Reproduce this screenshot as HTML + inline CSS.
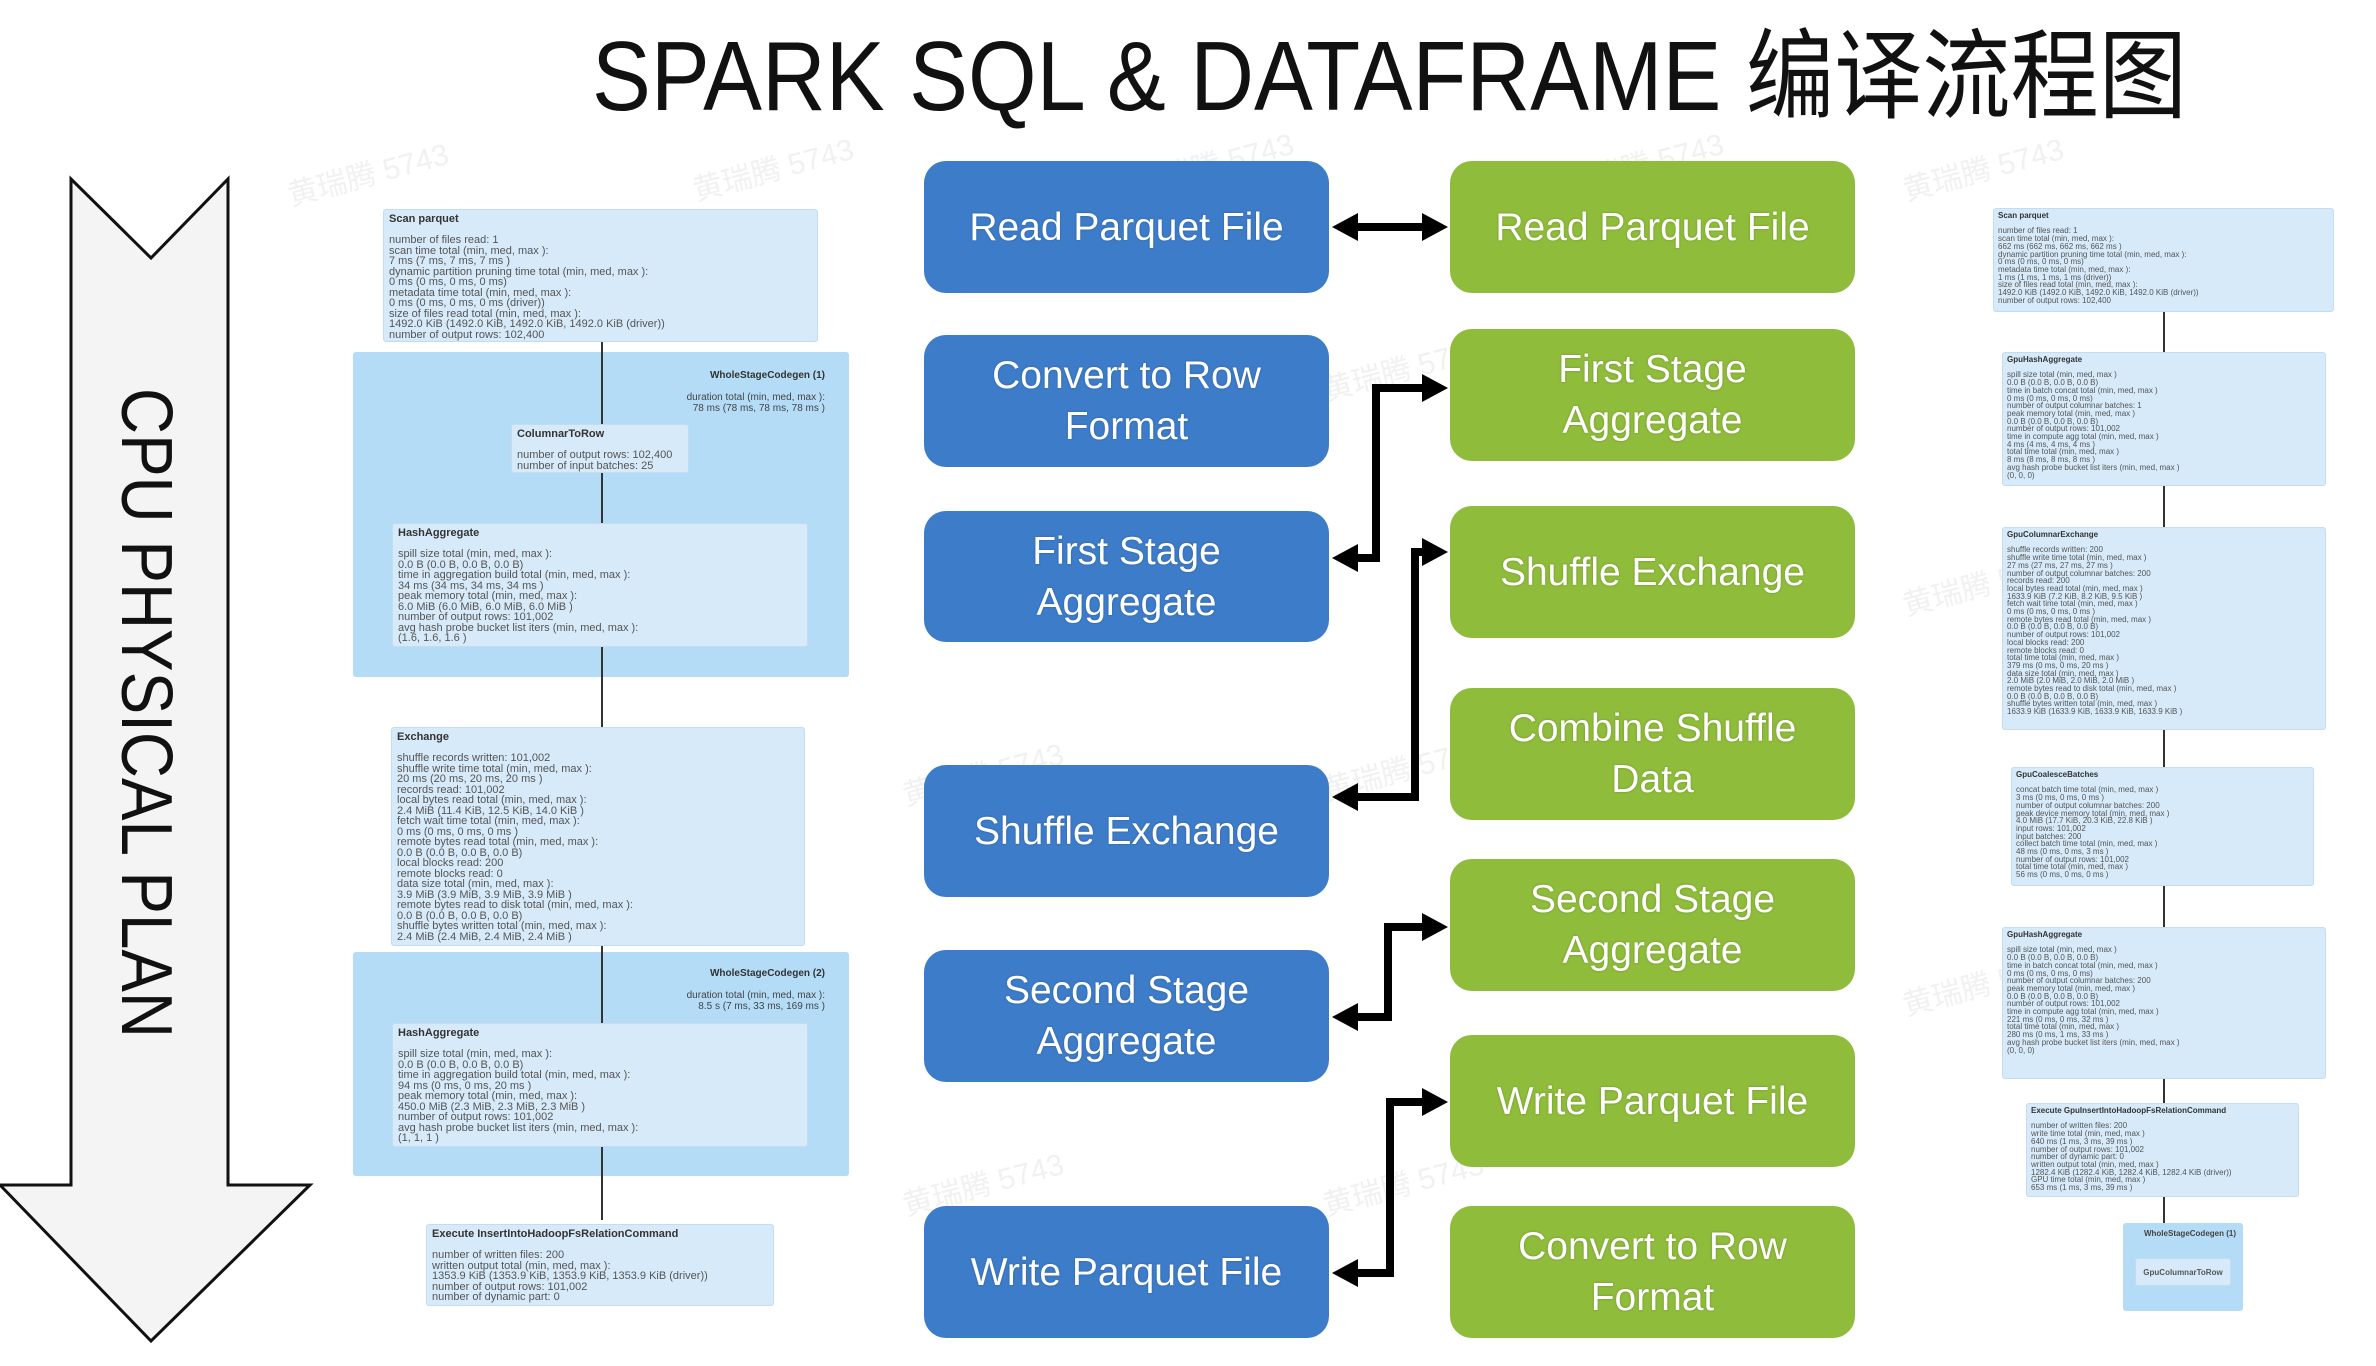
<!DOCTYPE html>
<html><head><meta charset="utf-8"><style>
body{margin:0;width:2376px;height:1366px;background:#fff;position:relative;overflow:hidden;font-family:"Liberation Sans","Noto Sans CJK SC",sans-serif}
.a{position:absolute}
.b{position:absolute;border-radius:22px;color:#fff;display:flex;align-items:center;justify-content:center;text-align:center;font-size:39px;line-height:51px;text-shadow:0 0 2px rgba(0,0,0,.25)}
.bl{background:#3d7cc9;left:924px;width:405px}
.gr{background:#8fbc3b;left:1450px;width:405px}
.p{position:absolute;background:#d7eaf9;border:1px solid #c4dcef;border-radius:3px;color:#555;font-size:11px;line-height:10.5px;padding:4px 5px;box-sizing:border-box;white-space:pre;overflow:hidden}
.p b{color:#333}
.r{font-size:8px;line-height:7.7px;padding:3px 4px}
.cg{position:absolute;background:#b5dcf6;border-radius:3px}
.wm{position:absolute;color:#f1f1f1;font-size:30px;transform:rotate(-15deg);white-space:nowrap}
</style></head><body>

<div class="wm" style="left:285px;top:150px">黄瑞腾 5743</div>
<div class="wm" style="left:690px;top:145px">黄瑞腾 5743</div>
<div class="wm" style="left:1130px;top:140px">黄瑞腾 5743</div>
<div class="wm" style="left:1560px;top:140px">黄瑞腾 5743</div>
<div class="wm" style="left:1900px;top:145px">黄瑞腾 5743</div>
<div class="wm" style="left:1320px;top:345px">黄瑞腾 5743</div>
<div class="wm" style="left:900px;top:750px">黄瑞腾 5743</div>
<div class="wm" style="left:1320px;top:745px">黄瑞腾 5743</div>
<div class="wm" style="left:900px;top:1160px">黄瑞腾 5743</div>
<div class="wm" style="left:1320px;top:1160px">黄瑞腾 5743</div>
<div class="wm" style="left:1900px;top:560px">黄瑞腾 5743</div>
<div class="wm" style="left:1900px;top:960px">黄瑞腾 5743</div>

<svg class="a" style="left:0;top:0" width="2376" height="1366">
<text x="592" y="110" font-family="Liberation Sans, Noto Sans CJK SC, sans-serif" font-size="98" fill="#111" textLength="1595" lengthAdjust="spacingAndGlyphs">SPARK SQL &amp; DATAFRAME 编译流程图</text>
<polygon points="71,179 151,258 228,179 228,1185 310,1185 151,1341 0,1185 71,1185" fill="#f4f4f4" stroke="#111" stroke-width="3"/>
<text transform="translate(122,388) rotate(90)" font-family="Liberation Sans, sans-serif" font-size="72" fill="#111" textLength="650" lengthAdjust="spacingAndGlyphs">CPU PHYSICAL PLAN</text>
<g stroke="#000" stroke-width="8" fill="none">
<line x1="1356" y1="227" x2="1422" y2="227"/>
<polyline points="1424,388 1376,388 1376,558 1356,558"/>
<polyline points="1424,552 1415,552 1415,797 1356,797"/>
<polyline points="1424,927 1388,927 1388,1017 1356,1017"/>
<polyline points="1424,1102 1390,1102 1390,1273 1356,1273"/>
</g>
<g fill="#000">
<polygon points="1332,227 1358,213 1358,241"/><polygon points="1448,227 1422,213 1422,241"/>
<polygon points="1448,388 1422,374 1422,402"/><polygon points="1332,558 1358,544 1358,572"/>
<polygon points="1448,552 1422,538 1422,566"/><polygon points="1332,797 1358,783 1358,811"/>
<polygon points="1448,927 1422,913 1422,941"/><polygon points="1332,1017 1358,1003 1358,1031"/>
<polygon points="1448,1102 1422,1088 1422,1116"/><polygon points="1332,1273 1358,1259 1358,1287"/>
</g>
</svg>

<div class="b bl" style="top:161px;height:132px">Read Parquet File</div>
<div class="b bl" style="top:335px;height:132px">Convert to Row<br>Format</div>
<div class="b bl" style="top:511px;height:131px">First Stage<br>Aggregate</div>
<div class="b bl" style="top:765px;height:132px">Shuffle Exchange</div>
<div class="b bl" style="top:950px;height:132px">Second Stage<br>Aggregate</div>
<div class="b bl" style="top:1206px;height:132px">Write Parquet File</div>

<div class="b gr" style="top:161px;height:132px">Read Parquet File</div>
<div class="b gr" style="top:329px;height:132px">First Stage<br>Aggregate</div>
<div class="b gr" style="top:506px;height:132px">Shuffle Exchange</div>
<div class="b gr" style="top:688px;height:132px">Combine Shuffle<br>Data</div>
<div class="b gr" style="top:859px;height:132px">Second Stage<br>Aggregate</div>
<div class="b gr" style="top:1035px;height:132px">Write Parquet File</div>
<div class="b gr" style="top:1206px;height:132px">Convert to Row<br>Format</div>

<!-- left plan -->
<div class="cg" style="left:353px;top:352px;width:496px;height:325px"></div>
<div class="cg" style="left:353px;top:952px;width:496px;height:224px"></div>
<div class="a" style="left:601px;top:340px;width:2px;height:880px;background:#333"></div>
<div class="a" style="left:650px;top:370px;width:175px;text-align:right;font-size:10px;line-height:11px;color:#444"><b style="color:#333">WholeStageCodegen (1)</b><br><br>duration total (min, med, max ):<br>78 ms (78 ms, 78 ms, 78 ms )</div>
<div class="a" style="left:650px;top:968px;width:175px;text-align:right;font-size:10px;line-height:11px;color:#444"><b style="color:#333">WholeStageCodegen (2)</b><br><br>duration total (min, med, max ):<br>8.5 s (7 ms, 33 ms, 169 ms )</div>

<div class="p" style="left:383px;top:209px;width:435px;height:133px"><b>Scan parquet</b>

number of files read: 1
scan time total (min, med, max ):
7 ms (7 ms, 7 ms, 7 ms )
dynamic partition pruning time total (min, med, max ):
0 ms (0 ms, 0 ms, 0 ms)
metadata time total (min, med, max ):
0 ms (0 ms, 0 ms, 0 ms (driver))
size of files read total (min, med, max ):
1492.0 KiB (1492.0 KiB, 1492.0 KiB, 1492.0 KiB (driver))
number of output rows: 102,400</div>
<div class="p" style="left:511px;top:424px;width:178px;height:49px"><b>ColumnarToRow</b>

number of output rows: 102,400
number of input batches: 25</div>
<div class="p" style="left:392px;top:523px;width:416px;height:124px"><b>HashAggregate</b>

spill size total (min, med, max ):
0.0 B (0.0 B, 0.0 B, 0.0 B)
time in aggregation build total (min, med, max ):
34 ms (34 ms, 34 ms, 34 ms )
peak memory total (min, med, max ):
6.0 MiB (6.0 MiB, 6.0 MiB, 6.0 MiB )
number of output rows: 101,002
avg hash probe bucket list iters (min, med, max ):
(1.6, 1.6, 1.6 )</div>
<div class="p" style="left:391px;top:727px;width:414px;height:219px"><b>Exchange</b>

shuffle records written: 101,002
shuffle write time total (min, med, max ):
20 ms (20 ms, 20 ms, 20 ms )
records read: 101,002
local bytes read total (min, med, max ):
2.4 MiB (11.4 KiB, 12.5 KiB, 14.0 KiB )
fetch wait time total (min, med, max ):
0 ms (0 ms, 0 ms, 0 ms )
remote bytes read total (min, med, max ):
0.0 B (0.0 B, 0.0 B, 0.0 B)
local blocks read: 200
remote blocks read: 0
data size total (min, med, max ):
3.9 MiB (3.9 MiB, 3.9 MiB, 3.9 MiB )
remote bytes read to disk total (min, med, max ):
0.0 B (0.0 B, 0.0 B, 0.0 B)
shuffle bytes written total (min, med, max ):
2.4 MiB (2.4 MiB, 2.4 MiB, 2.4 MiB )</div>
<div class="p" style="left:392px;top:1023px;width:416px;height:124px"><b>HashAggregate</b>

spill size total (min, med, max ):
0.0 B (0.0 B, 0.0 B, 0.0 B)
time in aggregation build total (min, med, max ):
94 ms (0 ms, 0 ms, 20 ms )
peak memory total (min, med, max ):
450.0 MiB (2.3 MiB, 2.3 MiB, 2.3 MiB )
number of output rows: 101,002
avg hash probe bucket list iters (min, med, max ):
(1, 1, 1 )</div>
<div class="p" style="left:426px;top:1224px;width:348px;height:82px"><b>Execute InsertIntoHadoopFsRelationCommand</b>

number of written files: 200
written output total (min, med, max ):
1353.9 KiB (1353.9 KiB, 1353.9 KiB, 1353.9 KiB (driver))
number of output rows: 101,002
number of dynamic part: 0</div>

<!-- right plan -->
<div class="a" style="left:2163px;top:310px;width:2px;height:940px;background:#333"></div>
<div class="cg" style="left:2123px;top:1223px;width:120px;height:88px"></div>
<div class="p r" style="left:1993px;top:208px;width:341px;height:104px"><b>Scan parquet</b>

number of files read: 1
scan time total (min, med, max ):
662 ms (662 ms, 662 ms, 662 ms )
dynamic partition pruning time total (min, med, max ):
0 ms (0 ms, 0 ms, 0 ms)
metadata time total (min, med, max ):
1 ms (1 ms, 1 ms, 1 ms (driver))
size of files read total (min, med, max ):
1492.0 KiB (1492.0 KiB, 1492.0 KiB, 1492.0 KiB (driver))
number of output rows: 102,400</div>
<div class="p r" style="left:2002px;top:352px;width:324px;height:134px"><b>GpuHashAggregate</b>

spill size total (min, med, max )
0.0 B (0.0 B, 0.0 B, 0.0 B)
time in batch concat total (min, med, max )
0 ms (0 ms, 0 ms, 0 ms)
number of output columnar batches: 1
peak memory total (min, med, max )
0.0 B (0.0 B, 0.0 B, 0.0 B)
number of output rows: 101,002
time in compute agg total (min, med, max )
4 ms (4 ms, 4 ms, 4 ms )
total time total (min, med, max )
8 ms (8 ms, 8 ms, 8 ms )
avg hash probe bucket list iters (min, med, max )
(0, 0, 0)</div>
<div class="p r" style="left:2002px;top:527px;width:324px;height:203px"><b>GpuColumnarExchange</b>

shuffle records written: 200
shuffle write time total (min, med, max )
27 ms (27 ms, 27 ms, 27 ms )
number of output columnar batches: 200
records read: 200
local bytes read total (min, med, max )
1633.9 KiB (7.2 KiB, 8.2 KiB, 9.5 KiB )
fetch wait time total (min, med, max )
0 ms (0 ms, 0 ms, 0 ms )
remote bytes read total (min, med, max )
0.0 B (0.0 B, 0.0 B, 0.0 B)
number of output rows: 101,002
local blocks read: 200
remote blocks read: 0
total time total (min, med, max )
379 ms (0 ms, 0 ms, 20 ms )
data size total (min, med, max )
2.0 MiB (2.0 MiB, 2.0 MiB, 2.0 MiB )
remote bytes read to disk total (min, med, max )
0.0 B (0.0 B, 0.0 B, 0.0 B)
shuffle bytes written total (min, med, max )
1633.9 KiB (1633.9 KiB, 1633.9 KiB, 1633.9 KiB )</div>
<div class="p r" style="left:2011px;top:767px;width:303px;height:119px"><b>GpuCoalesceBatches</b>

concat batch time total (min, med, max )
3 ms (0 ms, 0 ms, 0 ms )
number of output columnar batches: 200
peak device memory total (min, med, max )
4.0 MiB (17.7 KiB, 20.3 KiB, 22.8 KiB )
input rows: 101,002
input batches: 200
collect batch time total (min, med, max )
48 ms (0 ms, 0 ms, 3 ms )
number of output rows: 101,002
total time total (min, med, max )
56 ms (0 ms, 0 ms, 0 ms )</div>
<div class="p r" style="left:2002px;top:927px;width:324px;height:152px"><b>GpuHashAggregate</b>

spill size total (min, med, max )
0.0 B (0.0 B, 0.0 B, 0.0 B)
time in batch concat total (min, med, max )
0 ms (0 ms, 0 ms, 0 ms)
number of output columnar batches: 200
peak memory total (min, med, max )
0.0 B (0.0 B, 0.0 B, 0.0 B)
number of output rows: 101,002
time in compute agg total (min, med, max )
221 ms (0 ms, 0 ms, 32 ms )
total time total (min, med, max )
280 ms (0 ms, 1 ms, 33 ms )
avg hash probe bucket list iters (min, med, max )
(0, 0, 0)</div>
<div class="p r" style="left:2026px;top:1103px;width:273px;height:94px"><b>Execute GpuInsertIntoHadoopFsRelationCommand</b>

number of written files: 200
write time total (min, med, max )
640 ms (1 ms, 3 ms, 39 ms )
number of output rows: 101,002
number of dynamic part: 0
written output total (min, med, max )
1282.4 KiB (1282.4 KiB, 1282.4 KiB, 1282.4 KiB (driver))
GPU time total (min, med, max )
653 ms (1 ms, 3 ms, 39 ms )</div>
<div class="a" style="left:2130px;top:1229px;width:106px;text-align:right;font-size:8px;font-weight:bold;color:#444">WholeStageCodegen (1)</div>
<div class="p r" style="left:2135px;top:1258px;width:96px;height:28px;text-align:center;padding-top:10px;font-weight:bold">GpuColumnarToRow</div>
</body></html>
